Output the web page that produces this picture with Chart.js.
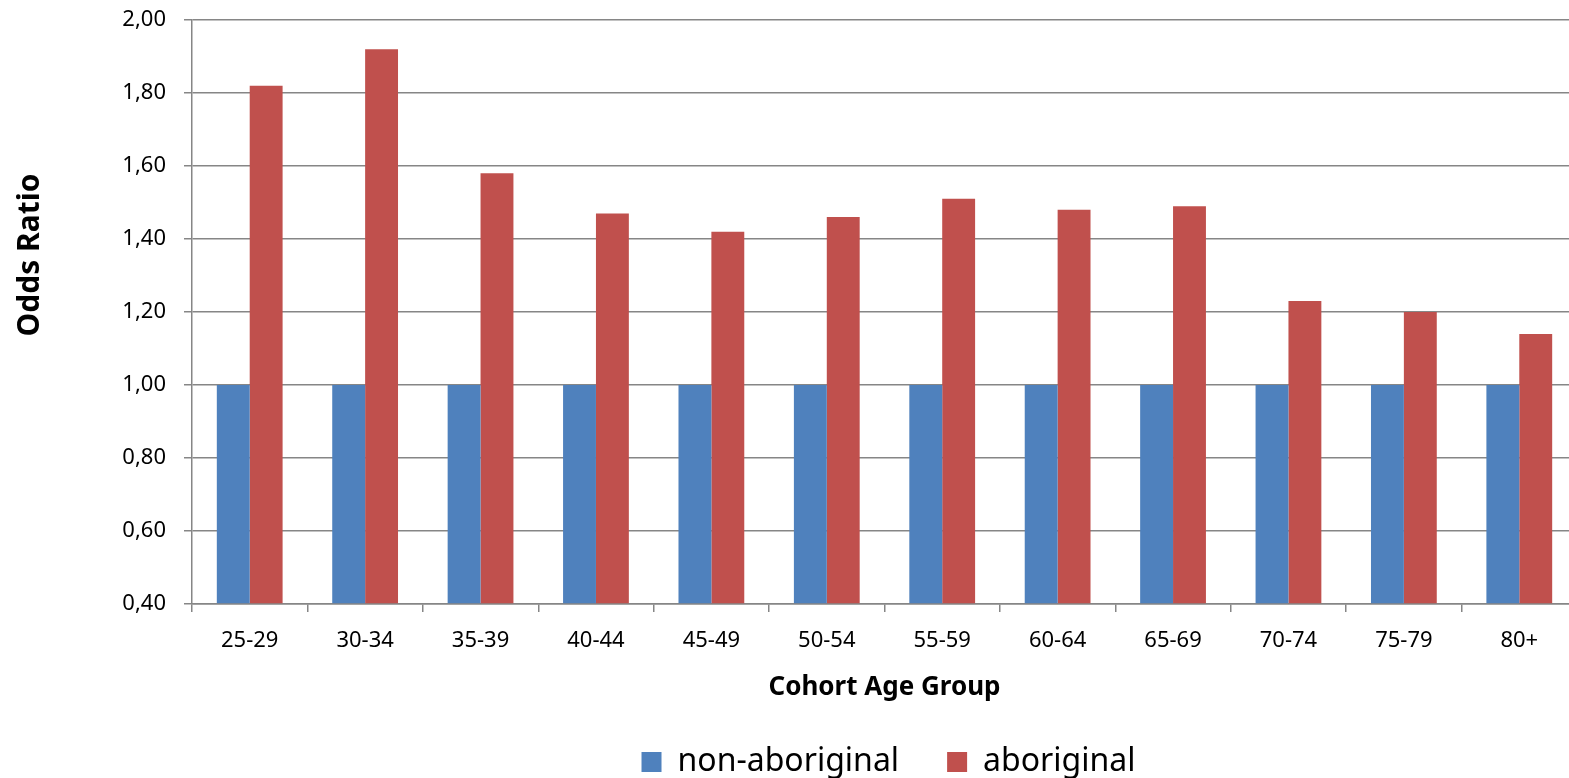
<!DOCTYPE html>
<html>
<head>
<meta charset="utf-8">
<script src="https://cdn.jsdelivr.net/npm/chart.js@4"></script>
<style>
  html, body { margin: 0; padding: 0; background: #fff; overflow: hidden; }
  #wrap { width: 1569px; height: 778px; overflow: hidden; }
</style>
</head>
<body>
<div id="wrap"><canvas id="chart" width="1600" height="778"></canvas></div>
<script>
// Odds ratio by cohort age group
const ageGroups = ['25-29', '30-34', '35-39', '40-44', '45-49', '50-54', '55-59', '60-64', '65-69', '70-74', '75-79', '80+'];
const nonAboriginal = [1, 1, 1, 1, 1, 1, 1, 1, 1, 1, 1, 1];
const aboriginal = [1.82, 1.92, 1.58, 1.47, 1.42, 1.46, 1.51, 1.48, 1.49, 1.23, 1.20, 1.14];
const yTicks = [0.4, 0.6, 0.8, 1.0, 1.2, 1.4, 1.6, 1.8, 2.0];

const FONT = 'Noto Sans';

// y title sits higher than the plot centre, so draw it ourselves
const yTitlePlugin = {
  id: 'yTitle',
  afterDraw(chart) {
    const ctx = chart.ctx;
    ctx.save();
    ctx.translate(30, 255);
    ctx.rotate(-Math.PI / 2);
    ctx.font = 'bold 30px "' + FONT + '"';
    ctx.fillStyle = '#000';
    ctx.textAlign = 'center';
    ctx.textBaseline = 'middle';
    ctx.fillText('Odds Ratio', 0, 0);
    ctx.restore();
  }
};

// legend is centred a bit right of the canvas middle
const legendShift = {
  id: 'legendShift',
  afterLayout(chart) {
    chart.legend.left += 100;
    chart.legend.right += 100;
  }
};

const chart = new Chart(document.getElementById('chart').getContext('2d'), {
  type: 'bar',
  data: {
    labels: ageGroups,
    datasets: [{
      label: 'non-aboriginal',
      data: nonAboriginal,
      backgroundColor: '#4F81BD',
      base: 0.4
    }, {
      label: 'aboriginal',
      data: aboriginal,
      backgroundColor: '#C0504D',
      base: 0.4
    }]
  },
  options: {
    responsive: false,
    animation: false,
    categoryPercentage: 0.57,
    barPercentage: 1.0,
    layout: { padding: { top: 0, right: 23, left: 0, bottom: -10 } },
    plugins: {
      legend: {
        position: 'bottom',
        labels: {
          boxWidth: 20,
          boxHeight: 20,
          padding: 48,
          color: '#000',
          font: { family: FONT, size: 32 }
        }
      },
      tooltip: { enabled: false }
    },
    scales: {
      x: {
        afterFit(scale) {
          scale.height = 94;
        },
        grid: { display: true, drawOnChartArea: false, color: '#868686', lineWidth: 1.5, tickLength: 8, offset: true },
        border: { color: '#868686', width: 1.5 },
        ticks: { color: '#000', padding: 16, font: { family: FONT, size: 22 } },
        title: { display: true, text: 'Cohort Age Group', color: '#000', padding: { top: 0, bottom: -5 }, font: { family: FONT, size: 26, weight: 'bold' } }
      },
      y: {
        min: 0.4,
        max: 2.0,
        afterBuildTicks(scale) {
          scale.ticks = yTicks.map(v => ({ value: v }));
        },
        afterFit(scale) {
          scale.width = 192;
          scale.paddingTop = 20;
        },
        grid: { color: '#868686', lineWidth: 1.5, tickLength: 8 },
        border: { color: '#868686', width: 1.5 },
        ticks: {
          color: '#000',
          padding: 18,
          font: { family: FONT, size: 22 },
          callback: v => v.toFixed(2).replace('.', ',')
        }
      }
    }
  },
  plugins: [yTitlePlugin, legendShift]
});
</script>
</body>
</html>
